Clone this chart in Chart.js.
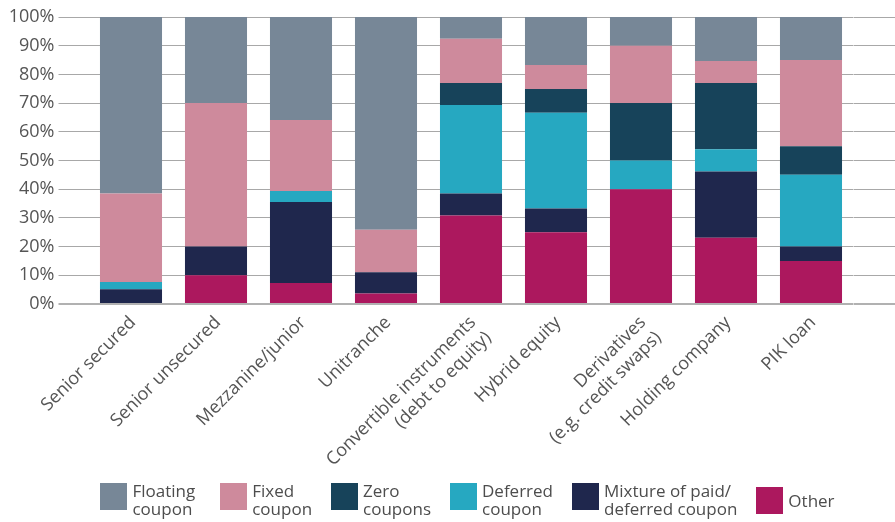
<!DOCTYPE html>
<html>
<head>
<meta charset="utf-8">
<script src="https://cdn.jsdelivr.net/npm/chart.js@4.4.1/dist/chart.umd.min.js"></script>
<style>
  body { margin: 0; background: #fff; font-family: 'Open Sans', sans-serif; }
  #wrap { position: relative; width: 895px; height: 522px; }
  #legend {
    position: absolute; left: 85px; top: 483px; width: 765px;
    display: flex; justify-content: center; gap: 19px;
  }
  .item { display: flex; align-items: flex-start; }
  .item:first-child { margin-right: 6px; }
  .item.single { align-items: center; }
  .swatch { width: 27px; height: 27px; margin-right: 5px; flex: none; }
  .text { font-size: 17px; line-height: 18px; color: #4d4d4d; margin-top: -1px; white-space: nowrap; }
  .single .text { margin-top: 0; }
</style>
</head>
<body>
<div id="wrap">
  <canvas id="chart"></canvas>
  <div id="legend"></div>
</div>
<script>
// categories (multi-line labels as arrays)
const categories = [
  'Senior secured',
  'Senior unsecured',
  'Mezzanine/junior',
  'Unitranche',
  ['Convertible instruments', '(debt to equity)'],
  'Hybrid equity',
  ['Derivatives', '(e.g. credit swaps)'],
  'Holding company',
  'PIK loan'
]

// share of responses, %, stacked bottom to top
const other    = [0,    10, 7.3,  3.7,  30.8, 25,   40, 23.1, 15]
const mixture  = [5.1,  10, 28.2, 7.4,  7.7,  8.3,  0,  23.1, 5]
const deferred = [2.6,  0,  3.9,  0,    30.8, 33.3, 10, 7.7,  25]
const zero     = [0,    0,  0,    0,    7.7,  8.3,  20, 23.1, 10]
const fixed    = [30.8, 50, 24.7, 14.8, 15.4, 8.4,  20, 7.7,  30]
const floating = [61.5, 30, 35.9, 74.1, 7.6,  16.7, 10, 15.3, 15]

const seriesNames = [
  ['Other'],
  ['Mixture of paid/', 'deferred coupon'],
  ['Deferred', 'coupon'],
  ['Zero', 'coupons'],
  ['Fixed', 'coupon'],
  ['Floating', 'coupon']
]
const seriesValues = [other, mixture, deferred, zero, fixed, floating]
const seriesColors = ['#ac185e', '#1f274d', '#26a8c1', '#17435a', '#ce8a9c', '#778797']

const tickColor = '#555555'
const tickFont = { family: "'Open Sans', sans-serif", size: 18 }

const gridColor = (ctx) => ctx.tick && ctx.tick.value === 0 ? '#b1b1b1' : '#a8a8a8'
const gridWidth = (ctx) => ctx.tick && ctx.tick.value === 0 ? 2 : 1

const datasets = seriesValues.map((values, i) => ({
  label: seriesNames[i].join(' '),
  data: values,
  backgroundColor: seriesColors[i],
  borderWidth: 0,
  categoryPercentage: 1,
  barPercentage: 0.73
}))

new Chart(document.getElementById('chart'), {
  type: 'bar',
  data: { labels: categories, datasets: datasets },
  options: {
    responsive: true,
    maintainAspectRatio: false,
    animation: false,
    layout: { padding: { top: 17, left: 0, right: 0, bottom: 0 } },
    plugins: {
      legend: { display: false },
      tooltip: { enabled: false }
    },
    scales: {
      x: {
        stacked: true,
        offset: true,
        grid: { display: false },
        border: { display: false },
        ticks: {
          autoSkip: false,
          maxRotation: 45,
          minRotation: 45,
          padding: 0,
          labelOffset: 2,
          color: tickColor,
          font: tickFont
        },
        afterFit: (scale) => { scale.height = 218 }
      },
      y: {
        stacked: true,
        min: 0,
        max: 100,
        border: { display: false },
        grid: { tickLength: 30, color: gridColor, lineWidth: gridWidth },
        ticks: {
          stepSize: 10,
          padding: 4,
          color: tickColor,
          font: tickFont,
          callback: (v) => v + '%'
        },
        afterFit: (scale) => { scale.width = 88.5 }
      },
      yRight: {
        position: 'right',
        min: 0,
        max: 100,
        border: { display: false },
        grid: { drawOnChartArea: false, tickLength: 42, color: gridColor, lineWidth: gridWidth },
        ticks: { display: false, stepSize: 10 },
        afterFit: (scale) => { scale.width = 41.5 }
      }
    }
  }
})

// legend, reads from the top of the stack down
const legend = document.getElementById('legend')
for (let i = seriesNames.length - 1; i >= 0; i--) {
  const item = document.createElement('div')
  item.className = 'item' + (seriesNames[i].length === 1 ? ' single' : '')
  const swatch = document.createElement('span')
  swatch.className = 'swatch'
  swatch.style.background = seriesColors[i]
  const text = document.createElement('span')
  text.className = 'text'
  text.innerHTML = seriesNames[i].join('<br>')
  item.appendChild(swatch)
  item.appendChild(text)
  legend.appendChild(item)
}
</script>
</body>
</html>
